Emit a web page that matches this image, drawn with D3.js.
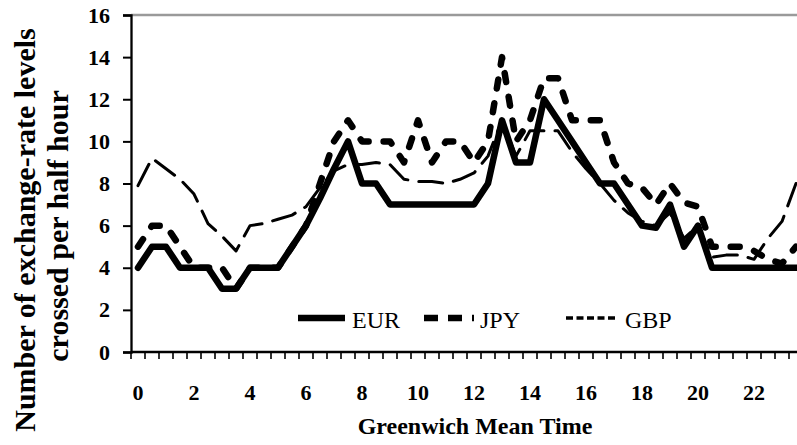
<!DOCTYPE html>
<html>
<head>
<meta charset="utf-8">
<script src="https://cdn.jsdelivr.net/npm/d3@7"></script>
<style>
  html, body { margin: 0; padding: 0; background: #fff; }
  svg { display: block; }
</style>
</head>
<body>
<svg id="chart" width="797" height="445"></svg>
<script>
// ---- data ----
const hours = d3.range(48);                       // half-hour slots 0..23.5
const tickLabels = ["0","2","4","6","8","10","12","14","16","18","20","22"];
const yTicks = [0,2,4,6,8,10,12,14,16];
const seriesNames = ["EUR","JPY","GBP"];
const EUR = [4,5,5,4,4,4,3,3,4,4,4,5, 6,7.3,8.7,10,8,8,7,7,7,7,7,7, 7,8,11,9,9,12,11,10,9,8,8,7, 6,5.9,7,5,6,4,4,4,4,4,4,4];
const JPY = [5,6,6,5,4,4,4,3,4,4,4,5, 6,8,10,11,10,10,10,9,11,9,10,10, 9,10,14,10,11,13,13,11,11,11,9,8, 7.8,7,8,7.1,6.9,5,5,5,4.8,4.4,4.2,5];
const GBP = [7.9,9.2,8.7,8.2,7.5,6.1,5.5,4.8,6.0,6.1,6.3,6.5, 6.9,7.8,8.6,8.9,8.9,9.0,8.9,8.2,8.1,8.1,8.0,8.2, 8.5,9.3,11,9.3,10.5,10.5,10.5,9.5,8.7,8.0,7.2,6.6, 6.2,6.0,6.6,5.4,6.0,4.5,4.6,4.6,4.4,5.4,6.2,8.0];

const svg = d3.select("#chart");
const x = d3.scaleBand().domain(hours).range([131, 803]).padding(0);
const y = d3.scaleLinear().domain([0, 16]).range([352, 15]);
const cx = i => x(i) + x.bandwidth() / 2;

const serif = "'Liberation Serif','Times New Roman',Times,serif";

// top frame line
svg.append("line").attr("x1", x.range()[0]).attr("x2", x.range()[1])
  .attr("y1", y(16)).attr("y2", y(16)).attr("stroke", "#9a9a9a").attr("stroke-width", 2.5);

// series
const styles = {
  EUR: { w: 6.5, dash: null, cap: "round" },
  JPY: { w: 6.5, dash: "9,15", cap: "round" },
  GBP: { w: 3, dash: "24,11", cap: "round" }
};
const data = { EUR, JPY, GBP };
const line = d3.line().x((d, i) => cx(i)).y(d => y(d)).curve(d3.curveLinear);
["GBP","JPY","EUR"].forEach(name => {
  const s = styles[name];
  svg.append("path").datum(data[name])
    .attr("d", line)
    .attr("fill", "none").attr("stroke", "#000")
    .attr("stroke-width", s.w)
    .attr("stroke-linejoin", "round")
    .attr("stroke-linecap", s.cap)
    .attr("stroke-dasharray", s.dash);
});

// y axis
const yAxis = d3.axisLeft(y).tickValues(yTicks).tickSize(8).tickPadding(13).tickFormat(d3.format("d"));
const gy = svg.append("g").attr("transform", "translate(131,0)").call(yAxis);
gy.select(".domain").attr("stroke", "#000").attr("stroke-width", 2.3);
gy.selectAll(".tick line").attr("stroke", "#000").attr("stroke-width", 2);
gy.selectAll(".tick text").attr("font-family", serif).attr("font-size", 22).attr("font-weight", "bold").attr("fill", "#000");

// x axis: line + boundary ticks + labels at category centres
svg.append("line").attr("x1", 131).attr("x2", 803).attr("y1", 352).attr("y2", 352)
  .attr("stroke", "#000").attr("stroke-width", 2.3);
const bounds = d3.range(49).map(k => (k < 48 ? x(k) : x(47) + x.bandwidth()));
svg.append("g").selectAll("line").data(bounds).join("line")
  .attr("x1", d => d).attr("x2", d => d).attr("y1", 352).attr("y2", 359)
  .attr("stroke", "#000").attr("stroke-width", 1.6);
svg.append("g").selectAll("text").data(tickLabels).join("text")
  .attr("x", (d, j) => cx(j * 4)).attr("y", 400)
  .attr("text-anchor", "middle")
  .attr("font-family", serif).attr("font-size", 22).attr("font-weight", "bold")
  .text(d => d);

// axis titles
svg.append("text").attr("x", 475).attr("y", 434).attr("text-anchor", "middle")
  .attr("font-family", serif).attr("font-size", 24).attr("font-weight", "bold")
  .text("Greenwich Mean Time");
const yt = svg.append("text").attr("transform", "rotate(-90)")
  .attr("text-anchor", "middle").attr("font-family", serif).attr("font-size", 30).attr("font-weight", "bold");
yt.append("tspan").attr("x", -230).attr("y", 35).text("Number of exchange-rate levels");
yt.append("tspan").attr("x", -226).attr("y", 68).text("crossed per half hour");

// legend
const legend = [
  { name: "EUR", x1: 298, x2: 345, tx: 352, dash: null, w: 6.5, cap: "butt" },
  { name: "JPY", x1: 424, x2: 474, tx: 480, dash: "14,10", w: 6.5, cap: "butt" },
  { name: "GBP", x1: 566, x2: 618, tx: 625, dash: "7,3.5", w: 3.5, cap: "butt" }
];
const lg = svg.append("g");
legend.forEach(l => {
  lg.append("line").attr("x1", l.x1).attr("x2", l.x2).attr("y1", 318).attr("y2", 318)
    .attr("stroke", "#000").attr("stroke-width", l.w).attr("stroke-dasharray", l.dash).attr("stroke-linecap", l.cap);
  lg.append("text").attr("x", l.tx).attr("y", 328).attr("font-family", serif).attr("font-size", 24).text(l.name);
});
</script>
</body>
</html>
